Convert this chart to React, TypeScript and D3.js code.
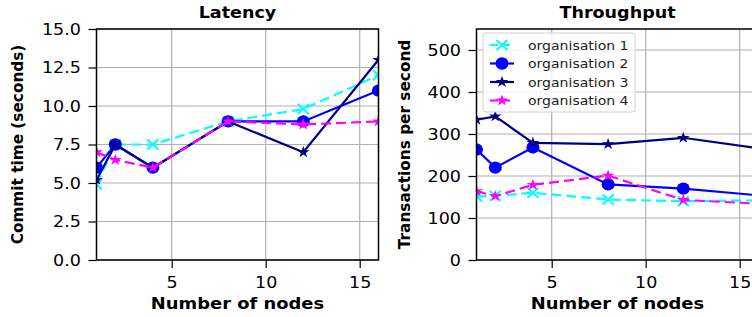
import React, { useEffect, useRef } from 'react';
import * as d3 from 'd3';

// node counts on the x axis
const nodes = [1, 2, 4, 8, 12, 16];

// latency (commit time, seconds)
const latOrg1 = [4.9, 7.5, 7.5, 9.0, 9.8, 12.0];
const latOrg2 = [6.0, 7.5, 6.0, 9.0, 9.0, 11.0];
const latOrg3 = [5.2, 7.5, 6.0, 9.0, 7.0, 13.0];
const latOrg4 = [7.0, 6.5, 6.0, 9.0, 8.8, 9.0];

// throughput (transactions per second)
const tpOrg1 = [151, 153, 160, 144, 140, 142];
const tpOrg2 = [263, 220, 268, 180, 170, 154];
const tpOrg3 = [334, 342, 279, 276, 291, 266];
const tpOrg4 = [164, 152, 179, 201, 143, 134];

const seriesNames = ['organisation 1', 'organisation 2', 'organisation 3', 'organisation 4'];
const xTicks = [5, 10, 15];
const latTicks = [0, 2.5, 5, 7.5, 10, 12.5, 15];
const tpTicks = [0, 100, 200, 300, 400, 500];

const styles = [
  { color: '#00ffff', dash: '10,5', marker: 'x' },
  { color: '#0000ff', dash: null, marker: 'circle' },
  { color: '#000080', dash: null, marker: 'star' },
  { color: '#ff00ff', dash: '10,5', marker: 'star' },
];

const FONT = 'DejaVu Sans';
const SX = 1.17; // the reference is stretched sideways a bit

const App = () => {
  const svgRef = useRef(null);

  useEffect(() => {
    const svg = d3.select(svgRef.current);
    svg.selectAll('*').remove();

    const top = 29, bottom = 260;

    const drawMarker = (g, kind, color) => {
      if (kind === 'circle') {
        g.append('ellipse').attr('rx', 6.5).attr('ry', 6.2).attr('fill', color);
      } else if (kind === 'star') {
        g.append('path')
          .attr('d', d3.symbol(d3.symbolStar, 42)())
          .attr('transform', 'scale(1.1,1)')
          .attr('fill', color);
      } else {
        g.append('path')
          .attr('d', 'M-5.5,-5L5.5,5M-5.5,5L5.5,-5')
          .attr('stroke', color)
          .attr('stroke-width', 2)
          .attr('fill', 'none');
      }
    };

    const panel = (id, left, right, yMax, yTicks, fmt, series, title, yLabel, yLabelX) => {
      const x = d3.scaleLinear().domain([1, 16]).range([left, right]);
      const y = d3.scaleLinear().domain([0, yMax]).range([bottom, top]);
      const g = svg.append('g');

      g.append('clipPath').attr('id', id)
        .append('rect')
        .attr('x', left).attr('y', top)
        .attr('width', right - left).attr('height', bottom - top);

      // grid
      g.append('g').selectAll('line').data(xTicks).enter().append('line')
        .attr('x1', d => x(d)).attr('x2', d => x(d))
        .attr('y1', top).attr('y2', bottom)
        .attr('stroke', '#b0b0b0').attr('stroke-width', 1.2);
      g.append('g').selectAll('line').data(yTicks).enter().append('line')
        .attr('x1', left).attr('x2', right)
        .attr('y1', d => y(d)).attr('y2', d => y(d))
        .attr('stroke', '#b0b0b0').attr('stroke-width', 1.2);

      // lines + markers
      const plot = g.append('g').attr('clip-path', `url(#${id})`);
      const line = d3.line().x(d => x(d[0])).y(d => y(d[1]));
      series.forEach((vals, i) => {
        const st = styles[i];
        const pts = nodes.map((n, k) => [n, vals[k]]);
        plot.append('path')
          .attr('d', line(pts))
          .attr('fill', 'none')
          .attr('stroke', st.color)
          .attr('stroke-width', 2.2)
          .attr('stroke-dasharray', st.dash);
        pts.forEach(p => {
          const m = plot.append('g').attr('transform', `translate(${x(p[0])},${y(p[1])})`);
          drawMarker(m, st.marker, st.color);
        });
      });

      // axes
      const ax = g.append('g').attr('transform', `translate(0,${bottom})`)
        .call(d3.axisBottom(x).tickValues(xTicks).tickSize(8).tickSizeOuter(0));
      ax.select('.domain').remove();
      ax.selectAll('line').attr('stroke', '#000').attr('stroke-width', 1.2);
      ax.selectAll('text')
        .attr('y', null).attr('dy', null)
        .attr('transform', `translate(0,28) scale(${SX},1)`)
        .attr('font-family', FONT).attr('font-size', 15).attr('fill', '#000');

      const ay = g.append('g').attr('transform', `translate(${left},0)`)
        .call(d3.axisLeft(y).tickValues(yTicks).tickFormat(fmt).tickSize(8).tickSizeOuter(0));
      ay.select('.domain').remove();
      ay.selectAll('line').attr('stroke', '#000').attr('stroke-width', 1.2);
      ay.selectAll('text')
        .attr('x', null).attr('dy', '0.36em')
        .attr('transform', `translate(-15.5,0) scale(${SX},1)`)
        .attr('font-family', FONT).attr('font-size', 15).attr('fill', '#000');

      // frame
      g.append('rect')
        .attr('x', left).attr('y', top)
        .attr('width', right - left).attr('height', bottom - top)
        .attr('fill', 'none').attr('stroke', '#000').attr('stroke-width', 1.5);

      const cx = (left + right) / 2;
      g.append('text')
        .attr('transform', `translate(${cx},18) scale(${SX},1)`)
        .attr('text-anchor', 'middle')
        .attr('font-family', FONT).attr('font-weight', 'bold').attr('font-size', 15)
        .text(title);
      g.append('text')
        .attr('transform', `translate(${cx},309) scale(${SX},1)`)
        .attr('text-anchor', 'middle')
        .attr('font-family', FONT).attr('font-weight', 'bold').attr('font-size', 15.3)
        .text('Number of nodes');
      g.append('text')
        .attr('transform', `translate(${yLabelX},${(top + bottom) / 2}) rotate(-90)`)
        .attr('text-anchor', 'middle')
        .attr('font-family', FONT).attr('font-weight', 'bold').attr('font-size', 15.3)
        .text(yLabel);

      return { x, y };
    };

    panel('clipLat', 96.5, 378.5, 15, latTicks, d3.format('.1f'),
      [latOrg1, latOrg2, latOrg3, latOrg4], 'Latency', 'Commit time (seconds)', 23);
    panel('clipTp', 476.5, 758.5, 550, tpTicks, d3.format('d'),
      [tpOrg1, tpOrg2, tpOrg3, tpOrg4], 'Throughput', 'Transactions per second', 410);

    // legend
    const lg = svg.append('g');
    lg.append('rect')
      .attr('x', 483).attr('y', 33).attr('width', 152).attr('height', 79)
      .attr('rx', 3)
      .attr('fill', '#fff').attr('fill-opacity', 0.85)
      .attr('stroke', '#d0d0d0').attr('stroke-width', 1);
    const rowY = d3.scaleLinear().domain([0, 3]).range([45, 100.5]);
    seriesNames.forEach((name, i) => {
      const st = styles[i];
      const yy = rowY(i);
      lg.append('line')
        .attr('x1', 490).attr('x2', 514).attr('y1', yy).attr('y2', yy)
        .attr('stroke', st.color).attr('stroke-width', 2.2)
        .attr('stroke-dasharray', st.dash ? '8,4' : null);
      const m = lg.append('g').attr('transform', `translate(502,${yy})`);
      drawMarker(m, st.marker, st.color);
      lg.append('text')
        .attr('transform', `translate(528,${yy + 4.5}) scale(${SX},1)`)
        .attr('font-family', FONT).attr('font-size', 12)
        .attr('fill', '#222')
        .text(name);
    });
  }, []);

  return (
    <svg
      ref={svgRef}
      width={752}
      height={317}
      style={{ position: 'absolute', left: 0, top: 0, background: '#fff' }}
    />
  );
};

export default App;
